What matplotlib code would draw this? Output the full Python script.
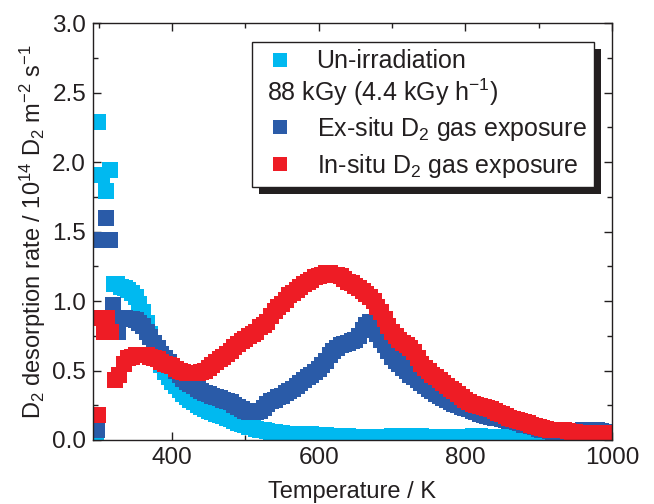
import matplotlib
matplotlib.use("Agg")
import matplotlib.pyplot as plt
from matplotlib.lines import Line2D
from matplotlib.legend_handler import HandlerBase
from matplotlib.patches import Rectangle
from matplotlib.text import Text
from matplotlib.ticker import MultipleLocator, FormatStrFormatter

# Un-irradiation
temp_un = [296, 299, 304, 310, 315,
           320, 325, 330, 335, 340, 345, 350, 355, 360, 365, 370, 375, 380, 385,
           390, 395, 400, 405, 410, 415, 420, 425, 430, 435, 440, 445, 450, 455,
           460, 465, 470, 475, 480, 485, 490, 495, 500, 505, 510, 515, 520, 525,
           530, 535, 540, 545, 550, 560, 570, 580, 590, 600, 610, 620, 630, 640,
           650, 660, 670, 680, 690, 700, 710, 720, 730, 740, 750, 760, 770, 780,
           790, 800, 810, 820, 830, 840, 850, 860, 870, 880, 890, 900, 910, 920,
           930, 940, 950, 960, 970, 980, 990, 1000]
rate_un = [0.0, 2.29, 1.91, 1.79, 1.94,
           1.12, 1.12, 1.10, 1.09, 1.08, 1.06, 1.03, 0.98, 0.92, 0.84, 0.76, 0.68, 0.60, 0.54,
           0.49, 0.45, 0.42, 0.39, 0.36, 0.33, 0.31, 0.29, 0.27, 0.25, 0.24, 0.225, 0.21, 0.20,
           0.19, 0.18, 0.17, 0.16, 0.15, 0.135, 0.125, 0.115, 0.105, 0.095, 0.09, 0.08, 0.075, 0.07,
           0.065, 0.06, 0.055, 0.05, 0.05, 0.045, 0.045, 0.04, 0.04, 0.035, 0.035, 0.03, 0.03, 0.03,
           0.025, 0.02, 0.01, 0.02, 0.025, 0.03, 0.03, 0.03, 0.03, 0.03, 0.025, 0.025, 0.02, 0.02,
           0.02, 0.025, 0.03, 0.03, 0.025, 0.025, 0.02, 0.02, 0.02, 0.02, 0.015, 0.01, 0.01, 0.01,
           0.01, 0.01, 0.01, 0.01, 0.01, 0.01, 0.01, 0.01]

# 88 kGy, ex-situ D2 gas exposure
temp_ex = [297, 304, 310, 315, 319, 326,
           330, 335, 340, 345, 350, 355, 360, 365, 370, 375, 380, 385, 390, 395,
           400, 405, 410, 415, 420, 425, 430, 435, 440, 445, 450, 455, 460, 465,
           470, 475, 480, 485, 490, 495, 500, 505, 510, 515, 520, 525, 530, 535,
           540, 545, 550, 555, 560, 565, 570, 575, 580, 585, 590, 595, 600, 605,
           610, 615, 620, 625, 630, 635, 640, 645, 650, 655, 660, 665, 670, 675,
           680, 685, 690, 695, 700, 705, 710, 715, 720, 725, 730, 735, 740, 745,
           750, 755, 760, 765, 770, 775, 780, 785, 790, 795, 800, 805, 810, 815,
           820, 825, 830, 835, 840, 845, 850, 855, 860, 865, 870, 875, 880, 885,
           890, 895, 900, 905, 910, 915, 920, 925, 930, 935, 940, 945, 950, 955,
           960, 965, 970, 975, 980, 985, 990, 995, 1000]
rate_ex = [0.07, 1.44, 1.60, 1.44, 0.97, 0.78,
           0.87, 0.88, 0.87, 0.87, 0.86, 0.84, 0.82, 0.78, 0.74, 0.70, 0.66, 0.62, 0.59, 0.56,
           0.53, 0.50, 0.47, 0.44, 0.42, 0.40, 0.39, 0.37, 0.35, 0.34, 0.33, 0.32, 0.31, 0.30,
           0.29, 0.28, 0.27, 0.255, 0.24, 0.225, 0.21, 0.20, 0.20, 0.20, 0.21, 0.23, 0.26, 0.28,
           0.29, 0.31, 0.32, 0.34, 0.35, 0.37, 0.39, 0.41, 0.43, 0.45, 0.47, 0.49, 0.51, 0.54,
           0.57, 0.61, 0.64, 0.66, 0.68, 0.69, 0.70, 0.71, 0.72, 0.75, 0.79, 0.83, 0.85, 0.82,
           0.76, 0.72, 0.68, 0.64, 0.60, 0.57, 0.55, 0.52, 0.50, 0.47, 0.45, 0.43, 0.41, 0.39,
           0.37, 0.35, 0.33, 0.315, 0.30, 0.285, 0.27, 0.26, 0.25, 0.24, 0.23, 0.22, 0.21, 0.20,
           0.19, 0.18, 0.17, 0.165, 0.16, 0.155, 0.15, 0.145, 0.14, 0.135, 0.13, 0.12, 0.11, 0.105,
           0.10, 0.09, 0.08, 0.075, 0.07, 0.065, 0.06, 0.055, 0.05, 0.05, 0.05, 0.055, 0.06, 0.065,
           0.07, 0.07, 0.07, 0.07, 0.07, 0.065, 0.06, 0.06, 0.06]

# 88 kGy, in-situ D2 gas exposure
temp_in = [299, 302, 307, 311, 316, 322, 328, 334,
           340, 345, 350, 355, 360, 365, 370, 375, 380, 385, 390, 395,
           400, 405, 410, 415, 420, 425, 430, 435, 440, 445, 450, 455, 460, 465,
           470, 475, 480, 485, 490, 495, 500, 505, 510, 515, 520, 525, 530, 535,
           540, 545, 550, 555, 560, 565, 570, 575, 580, 585, 590, 595, 600, 605,
           610, 615, 620, 625, 630, 635, 640, 645, 650, 655, 660, 665, 670, 675,
           680, 685, 690, 695, 700, 705, 710, 715, 720, 725, 730, 735, 740, 745,
           750, 755, 760, 765, 770, 775, 780, 785, 790, 795, 800, 805, 810, 815,
           820, 825, 830, 835, 840, 845, 850, 855, 860, 865, 870, 875, 880, 885,
           890, 895, 900, 905, 910, 915, 920, 925, 930, 935, 940, 945, 950, 955,
           960, 965, 970, 975, 980, 985, 990, 995, 1000]
rate_in = [0.18, 0.88, 0.78, 0.88, 0.78, 0.43, 0.47, 0.55,
           0.59, 0.60, 0.61, 0.61, 0.61, 0.61, 0.60, 0.59, 0.58, 0.56, 0.55, 0.54,
           0.53, 0.51, 0.50, 0.49, 0.48, 0.48, 0.48, 0.48, 0.49, 0.50, 0.52, 0.54, 0.56, 0.58,
           0.60, 0.62, 0.64, 0.67, 0.69, 0.71, 0.73, 0.75, 0.76, 0.78, 0.81, 0.83, 0.85, 0.89,
           0.93, 0.96, 0.98, 1.01, 1.04, 1.06, 1.08, 1.10, 1.12, 1.14, 1.15, 1.17, 1.18, 1.19,
           1.20, 1.20, 1.19, 1.19, 1.18, 1.16, 1.14, 1.13, 1.11, 1.09, 1.07, 1.05, 1.03, 1.00,
           0.96, 0.92, 0.87, 0.82, 0.78, 0.75, 0.72, 0.70, 0.68, 0.66, 0.63, 0.59, 0.55, 0.52,
           0.50, 0.47, 0.45, 0.43, 0.41, 0.39, 0.37, 0.35, 0.33, 0.31, 0.29, 0.275, 0.26, 0.25,
           0.245, 0.235, 0.23, 0.22, 0.21, 0.195, 0.185, 0.17, 0.16, 0.15, 0.145, 0.135, 0.13, 0.12,
           0.11, 0.10, 0.095, 0.085, 0.08, 0.075, 0.07, 0.07, 0.07, 0.07, 0.065, 0.06, 0.055, 0.05,
           0.05, 0.05, 0.05, 0.05, 0.05, 0.05, 0.05, 0.05, 0.05]

c_un = "#00b9f0"
c_ex = "#2a5ba8"
c_in = "#ee1c25"
ink = "#231f20"

plt.rcParams["font.family"] = ["Liberation Sans", "DejaVu Sans"]
plt.rcParams["mathtext.fontset"] = "custom"
plt.rcParams["mathtext.rm"] = "Liberation Sans"
plt.rcParams["mathtext.it"] = "Liberation Sans:italic"


class HeaderHandler(HandlerBase):
    """legend row with no marker, text starts where the markers are"""
    def __init__(self, text):
        super().__init__()
        self.text = text

    def create_artists(self, legend, orig_handle, xdescent, ydescent,
                       width, height, fontsize, trans):
        t = Text(-xdescent + 0.3 * fontsize, -ydescent + height / 2, self.text,
                 fontsize=fontsize, ha="left", va="center", transform=trans, color=ink)
        return [t]


fig = plt.figure(figsize=(6.54, 5.04), dpi=100)
ax = fig.add_axes([93 / 654, 1 - 440 / 504, (612 - 93) / 654, (440 - 23) / 504])

ms = 11
ax.plot(temp_un, rate_un, "s", color=c_un, ms=ms, mew=0, label="Un-irradiation")
ax.plot(temp_ex, rate_ex, "s", color=c_ex, ms=ms, mew=0, label=r"Ex-situ D$\mathregular{_2}$ gas exposure")
ax.plot(temp_in, rate_in, "s", color=c_in, ms=ms, mew=0, label=r"In-situ D$\mathregular{_2}$ gas exposure")

ax.set_xlim(292, 1000)
ax.set_ylim(0, 3.0)
ax.xaxis.set_major_locator(MultipleLocator(200))
ax.xaxis.set_minor_locator(MultipleLocator(100))
ax.yaxis.set_major_locator(MultipleLocator(0.5))
ax.yaxis.set_minor_locator(MultipleLocator(0.25))
ax.yaxis.set_major_formatter(FormatStrFormatter("%.1f"))
ax.tick_params(which="both", direction="in", top=True, right=True, width=1,
               labelsize=17.5, colors=ink)
ax.tick_params(which="major", length=6, pad=5)
ax.tick_params(which="minor", length=3.5)
for s in ax.spines.values():
    s.set_linewidth(1.0)
    s.set_color(ink)

ax.set_xlabel("Temperature / K", fontsize=17, color=ink, labelpad=9)
ax.set_ylabel(r"D$\mathregular{_2}$ desorption rate / 10$\mathregular{^{14}}$ D$\mathregular{_2}$ "
              r"m$\mathregular{^{-2}}$ s$\mathregular{^{-1}}$", fontsize=17, color=ink,
              labelpad=3)

h = ax.get_lines()
header = Line2D([], [], linestyle="none")
leg = ax.legend([h[0], header, h[1], h[2]],
                ["Un-irradiation", "", h[1].get_label(), h[2].get_label()],
                handler_map={header: HeaderHandler(r"88 kGy (4.4 kGy h$\mathregular{^{-1}}$)")},
                loc="upper right", bbox_to_anchor=(594 / 654, 1 - 42 / 504),
                bbox_transform=fig.transFigure, borderaxespad=0,
                fontsize=18, numpoints=1, markerscale=0.9, handlelength=1.7,
                handletextpad=0.6, borderpad=0.3, labelspacing=0.35,
                fancybox=False, framealpha=1, edgecolor=ink)
leg.get_frame().set_linewidth(1.0)
for t in leg.get_texts():
    t.set_color(ink)

# black drop shadow behind the legend box
fig.canvas.draw()
bb = leg.get_window_extent().transformed(fig.transFigure.inverted())
ax.add_patch(Rectangle((bb.x0 + 7 / 654, bb.y0 - 7 / 504), bb.width, bb.height,
                       transform=fig.transFigure, facecolor=ink, edgecolor="none",
                       zorder=4.9, clip_on=False))

fig.savefig("out.png", dpi=100)
